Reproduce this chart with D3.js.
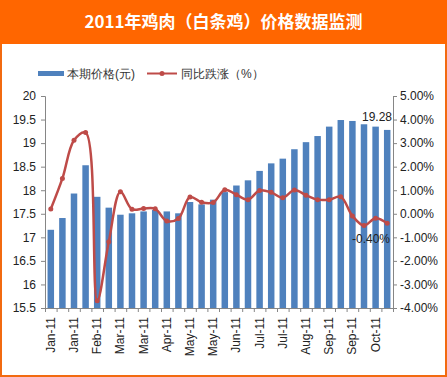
<!doctype html>
<html>
<head>
  <meta charset="utf-8">
  <script src="https://d3js.org/d3.v7.min.js"></script>
  <style>
    body { margin: 0; background: #fff; }
    text { font-family: "Liberation Sans", Arial, sans-serif; }
  </style>
</head>
<body>
  <script>

    // price per period (yuan)
    var prices = [17.16, 17.41, 17.93, 18.53, 17.86, 17.63, 17.48, 17.51, 17.55, 17.58,
                  17.55, 17.51, 17.75, 17.70, 17.80, 17.96, 18.10, 18.21, 18.41, 18.57,
                  18.67, 18.87, 19.02, 19.15, 19.35, 19.49, 19.47, 19.40, 19.35, 19.28];
    // year-on-year change (%)
    var change = [0.20, 1.50, 3.12, 3.45, -3.69, -1.19, 0.93, 0.19, 0.22, 0.21,
                  -0.31, -0.20, 0.71, 0.49, 0.48, 1.02, 0.81, 0.60, 0.99, 0.91,
                  0.68, 1.01, 0.79, 0.60, 0.60, 0.72, -0.09, -0.50, -0.19, -0.40];
    // shown on every second bar
    var tickLabels = ["Jan-11", "Jan-11", "Feb-11", "Mar-11", "Mar-11", "Apr-11", "May-11", "May-11",
                      "Jun-11", "Jul-11", "Jul-11", "Aug-11", "Sep-11", "Sep-11", "Oct-11"];
    var leftTicks = [15.5, 16, 16.5, 17, 17.5, 18, 18.5, 19, 19.5, 20];
    var rightTicks = [-4, -3, -2, -1, 0, 1, 2, 3, 4, 5];

    var W = 447, H = 377;
    var svg = d3.select("body").append("svg")
        .attr("width", W)
        .attr("height", H);

    // frame + title banner
    svg.append("rect")
        .attr("x", 1).attr("y", 1).attr("width", W - 2).attr("height", H - 2)
        .attr("fill", "#fff").attr("stroke", "#f26a10").attr("stroke-width", 2);
    svg.append("rect")
        .attr("x", 0).attr("y", 0).attr("width", W).attr("height", 44)
        .attr("fill", "#ff6600");
    svg.append("text")
        .attr("x", W / 2).attr("y", 28)
        .attr("text-anchor", "middle")
        .attr("fill", "#fff")
        .style("font-family", "'Noto Sans CJK SC', sans-serif")
        .style("font-weight", "bold")
        .style("font-size", "17px")
        .text("2011年鸡肉（白条鸡）价格数据监测");

    // legend
    var legend = svg.append("g").style("font-family", "'Noto Sans CJK SC', sans-serif")
        .style("font-size", "12px").attr("fill", "#333");
    legend.append("rect").attr("x", 38).attr("y", 71).attr("width", 26).attr("height", 5).attr("fill", "#4f81bd");
    legend.append("text").attr("x", 67).attr("y", 78).text("本期价格(元)");
    legend.append("line").attr("x1", 147).attr("x2", 177).attr("y1", 73.5).attr("y2", 73.5)
        .attr("stroke", "#be4b48").attr("stroke-width", 2);
    legend.append("circle").attr("cx", 162).attr("cy", 73.5).attr("r", 2.5).attr("fill", "#be4b48");
    legend.append("text").attr("x", 181).attr("y", 78).text("同比跌涨（%）");

    var pLeft = 45, pRight = 393, pTop = 96, pBottom = 308;

    var x = d3.scaleBand()
        .domain(d3.range(prices.length))
        .range([pLeft, pRight])
        .paddingInner(0.44)
        .paddingOuter(0.22);

    var y = d3.scaleLinear().domain([15.5, 20]).range([pBottom, pTop]);
    var y2 = d3.scaleLinear().domain([-4, 5]).range([pBottom, pTop]);

    // bars
    svg.append("g").selectAll("rect")
        .data(prices)
        .enter()
        .append("rect")
        .attr("x", function (d, i) { return x(i); })
        .attr("y", function (d) { return y(d); })
        .attr("width", x.bandwidth())
        .attr("height", function (d) { return pBottom - y(d); })
        .attr("fill", "#4f81bd");

    // axes
    var axisColor = "#868686";
    var gl = svg.append("g")
        .attr("transform", "translate(" + pLeft + ",0)")
        .call(d3.axisLeft(y).tickValues(leftTicks).tickSize(4).tickPadding(5)
              .tickFormat(function (d) { return d3.format("")(d); }));
    var gr = svg.append("g")
        .attr("transform", "translate(" + pRight + ",0)")
        .call(d3.axisRight(y2).tickValues(rightTicks).tickSize(4).tickPadding(3)
              .tickFormat(function (d) { return d.toFixed(2) + "%"; }));

    var xb = d3.scaleLinear().domain([0, prices.length]).range([pLeft, pRight]);
    var gb = svg.append("g")
        .attr("transform", "translate(0," + pBottom + ")")
        .call(d3.axisBottom(xb).tickValues(d3.range(prices.length + 1)).tickSize(4).tickFormat(""));

    [gl, gr, gb].forEach(function (g) {
      g.select(".domain").attr("stroke", axisColor);
      g.selectAll(".tick line").attr("stroke", axisColor);
      g.selectAll("text").attr("fill", "#222").style("font-size", "12px");
    });

    // rotated category labels
    svg.append("g").selectAll("text")
        .data(tickLabels)
        .enter()
        .append("text")
        .attr("transform", function (d, i) {
          var cx = x(i * 2) + x.bandwidth() / 2 + 4;
          return "translate(" + cx + "," + (pBottom + 9) + ") rotate(-90)";
        })
        .attr("text-anchor", "end")
        .attr("fill", "#222")
        .style("font-size", "12px")
        .text(function (d) { return d; });

    // change line
    var line = d3.line()
        .x(function (d, i) { return x(i) + x.bandwidth() / 2; })
        .y(function (d) { return y2(d); })
        .curve(d3.curveCatmullRom.alpha(0.5));

    svg.append("path")
        .datum(change)
        .attr("d", line)
        .attr("fill", "none")
        .attr("stroke", "#be4b48")
        .attr("stroke-width", 2.5);

    svg.append("g").selectAll("circle")
        .data(change)
        .enter()
        .append("circle")
        .attr("cx", function (d, i) { return x(i) + x.bandwidth() / 2; })
        .attr("cy", function (d) { return y2(d); })
        .attr("r", 2.5)
        .attr("fill", "#be4b48");

    // data labels on the last point
    var last = prices.length - 1;
    svg.append("text")
        .attr("x", pRight - 1)
        .attr("y", y(prices[last]) - 9)
        .attr("text-anchor", "end")
        .attr("fill", "#222")
        .style("font-size", "12px")
        .text(prices[last].toFixed(2));
    svg.append("text")
        .attr("x", pRight - 3)
        .attr("y", y2(change[last]) + 20)
        .attr("text-anchor", "end")
        .attr("fill", "#222")
        .style("font-size", "12px")
        .text(change[last].toFixed(2) + "%");

  </script>
</body>
</html>
